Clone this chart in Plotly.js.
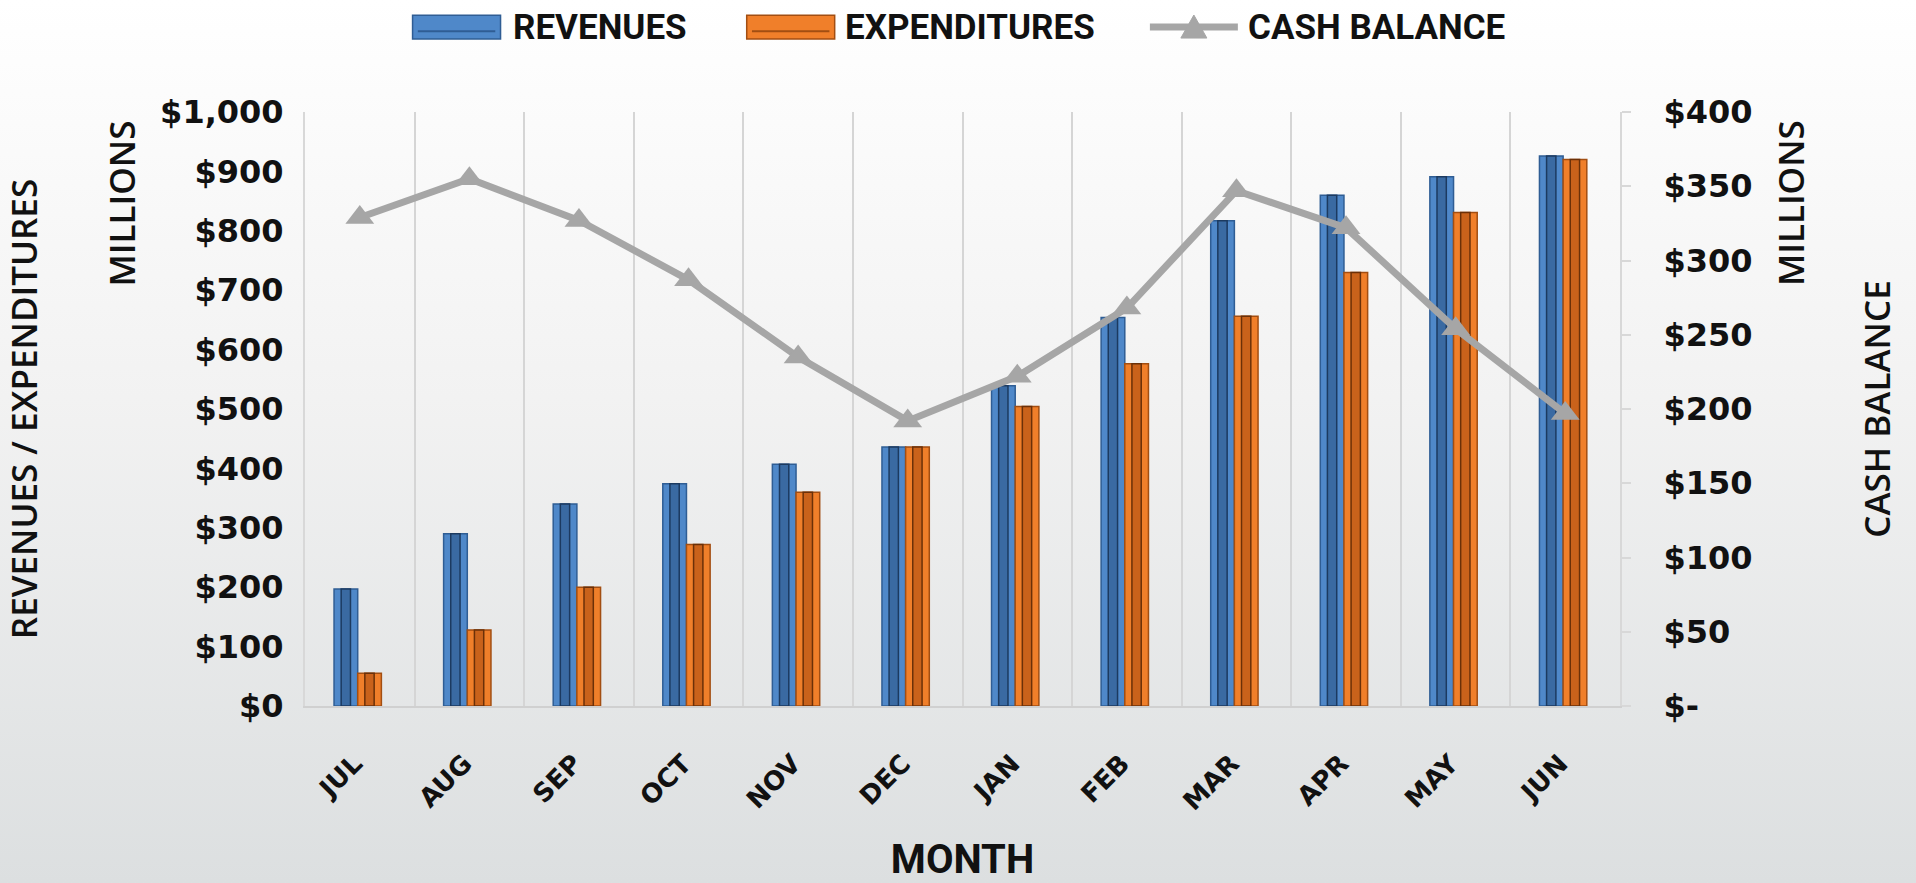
<!DOCTYPE html>
<html>
<head>
<meta charset="utf-8">
<script src="https://cdn.plot.ly/plotly-3.0.1.min.js"></script>
<style>
  html, body { margin: 0; padding: 0; }
  body { background: linear-gradient(to bottom, #ffffff 0%, #f2f2f2 45%, #dcdfe0 100%); }
  #chart { width: 1916px; height: 883px; }
</style>
</head>
<body>
<div id="chart"></div>
<script>
// ---- data ----
const months = ['JUL', 'AUG', 'SEP', 'OCT', 'NOV', 'DEC', 'JAN', 'FEB', 'MAR', 'APR', 'MAY', 'JUN'];
const revenues = [197, 290, 340, 374, 407, 436, 539, 654, 817, 860, 891, 926];
const expenditures = [55, 128, 200, 272, 360, 436, 504, 576, 656, 730, 831, 920];
const cashBalance = [329, 355, 327, 287, 235, 192, 222, 268, 347, 322, 254, 197];

const leftTickVals = [0, 100, 200, 300, 400, 500, 600, 700, 800, 900, 1000];
const leftTickText = ['$0', '$100', '$200', '$300', '$400', '$500', '$600', '$700', '$800', '$900', '$1,000'];
const rightTickVals = [0, 50, 100, 150, 200, 250, 300, 350, 400];
const rightTickText = ['$-', '$50', '$100', '$150', '$200', '$250', '$300', '$350', '$400'];

const seriesNames = ['REVENUES', 'EXPENDITURES', 'CASH BALANCE'];
const axisTitles = { x: 'MONTH', yLeft: 'REVENUES / EXPENDITURES', yRight: 'CASH BALANCE', units: 'MILLIONS' };

// ---- styles ----
const BLUE = '#4f88c9', BLUE_EDGE = '#2f5d94', BLUE_CORE = '#3a6aa2', BLUE_CORE_EDGE = '#1c3a60';
const ORANGE = '#f07f2a', ORANGE_EDGE = '#a24e12', ORANGE_CORE = '#c9621b', ORANGE_CORE_EDGE = '#6b3008';
const GRAY = '#a6a6a6';
const narrowFont = "Roboto, 'Liberation Sans', sans-serif";

const BAR_W = 0.216;
const traces = [
  { type: 'bar', name: seriesNames[0], x: months, y: revenues, offset: -0.235, width: BAR_W,
    marker: { color: BLUE, line: { color: BLUE_EDGE, width: 1.5 } }, showlegend: false },
  { type: 'bar', name: seriesNames[0] + ' core', x: months, y: revenues, offset: -0.17, width: 0.085,
    marker: { color: BLUE_CORE, line: { color: BLUE_CORE_EDGE, width: 1.5 } }, showlegend: false, hoverinfo: 'skip' },
  { type: 'bar', name: seriesNames[1], x: months, y: expenditures, offset: -0.019, width: BAR_W,
    marker: { color: ORANGE, line: { color: ORANGE_EDGE, width: 1.5 } }, showlegend: false },
  { type: 'bar', name: seriesNames[1] + ' core', x: months, y: expenditures, offset: 0.046, width: 0.085,
    marker: { color: ORANGE_CORE, line: { color: ORANGE_CORE_EDGE, width: 1.5 } }, showlegend: false, hoverinfo: 'skip' },
  { type: 'scatter', mode: 'lines+markers', name: seriesNames[2], x: months, y: cashBalance, yaxis: 'y2',
    line: { color: GRAY, width: 7 }, marker: { symbol: 'triangle-up', size: 25, color: GRAY },
    showlegend: false }
];

// custom legend (paper coordinates)
const legendY = 1.143;
const legendItems = [
  { x0: 0.0818, x1: 0.1487, tx: 0.1563, color: BLUE, edge: BLUE_EDGE, kind: 'bar', label: seriesNames[0] },
  { x0: 0.3359, x1: 0.4028, tx: 0.4089, color: ORANGE, edge: ORANGE_EDGE, kind: 'bar', label: seriesNames[1] },
  { x0: 0.6425, x1: 0.7094, tx: 0.7155, color: GRAY, edge: GRAY, kind: 'line', label: seriesNames[2] }
];
const shapes = [];
const annotations = [];
legendItems.forEach(it => {
  if (it.kind === 'bar') {
    shapes.push({ type: 'rect', xref: 'paper', yref: 'paper', x0: it.x0, x1: it.x1, y0: legendY - 0.02, y1: legendY + 0.02,
      fillcolor: it.color, line: { color: it.edge, width: 1.5 } });
    shapes.push({ type: 'line', xref: 'paper', yref: 'paper', x0: it.x0 + 0.004, x1: it.x1 - 0.004, y0: legendY - 0.007, y1: legendY - 0.007,
      line: { color: it.edge, width: 2 } });
  } else {
    shapes.push({ type: 'line', xref: 'paper', yref: 'paper', x0: it.x0, x1: it.x1, y0: legendY, y1: legendY,
      line: { color: it.color, width: 7 } });
    shapes.push({ type: 'path', xref: 'paper', yref: 'paper', xsizemode: 'pixel', ysizemode: 'pixel',
      xanchor: (it.x0 + it.x1) / 2, yanchor: legendY, path: 'M-13,-11 L13,-11 L0,12 Z',
      fillcolor: it.color, line: { color: it.color, width: 1 } });
  }
  annotations.push({ xref: 'paper', yref: 'paper', x: it.tx, y: legendY, xanchor: 'left', yanchor: 'middle',
    text: it.label, showarrow: false, font: { family: narrowFont, size: 35, color: '#111111', weight: 'bold' } });
});

const sideFont = { family: "'Open Sans', 'DejaVu Sans', sans-serif", size: 35, color: '#111111', weight: 600 };
annotations.push({ xref: 'paper', yref: 'paper', x: -0.1396, y: 0.8468, text: axisTitles.units, textangle: -90,
  showarrow: false, xanchor: 'center', yanchor: 'middle', font: sideFont });
annotations.push({ xref: 'paper', yref: 'paper', x: 1.1293, y: 0.8468, text: axisTitles.units, textangle: -90,
  showarrow: false, xanchor: 'center', yanchor: 'middle', font: sideFont });

const tickFont = { family: "'DejaVu Sans', sans-serif", size: 32, color: '#111111', weight: 'bold' };

const layout = {
  width: 1916, height: 883,
  margin: { l: 305, r: 296, t: 112, b: 177 },
  paper_bgcolor: 'rgba(0,0,0,0)', plot_bgcolor: 'rgba(0,0,0,0)',
  barmode: 'overlay',
  showlegend: false,
  xaxis: {
    type: 'category', range: [-0.5, 11.5], tickson: 'boundaries',
    showgrid: true, gridcolor: '#d5d5d5', gridwidth: 2,
    showline: true, linecolor: '#d0d0d0', linewidth: 2,
    ticks: '', tickangle: -45, ticklabelstandoff: 30, ticklabelshift: -5,
    tickfont: { family: "'DejaVu Sans', sans-serif", size: 26, color: '#111111', weight: 'bold' },
    title: { text: axisTitles.x, standoff: 50, font: { family: narrowFont, size: 40, color: '#111111', weight: 'bold' } },
    automargin: false, fixedrange: true
  },
  yaxis: {
    range: [0, 1000], tickvals: leftTickVals, ticktext: leftTickText,
    showgrid: false, zeroline: false, showline: true, linecolor: '#d8d8d8', linewidth: 2,
    ticks: '', ticklabelstandoff: 13, tickfont: tickFont,
    title: { text: axisTitles.yLeft, standoff: 112, font: sideFont },
    automargin: false, fixedrange: true
  },
  yaxis2: {
    overlaying: 'y', side: 'right', range: [0, 400], tickvals: rightTickVals, ticktext: rightTickText,
    showgrid: false, zeroline: false, showline: true, linecolor: '#d8d8d8', linewidth: 2,
    ticks: 'outside', ticklen: 9, tickcolor: '#d8d8d8', tickwidth: 2, ticklabelstandoff: 26, tickfont: tickFont,
    title: { text: axisTitles.yRight, standoff: 114, font: sideFont },
    automargin: false, fixedrange: true
  },
  shapes: shapes,
  annotations: annotations
};

Plotly.newPlot('chart', traces, layout, { displayModeBar: false, staticPlot: true });
</script>
</body>
</html>
